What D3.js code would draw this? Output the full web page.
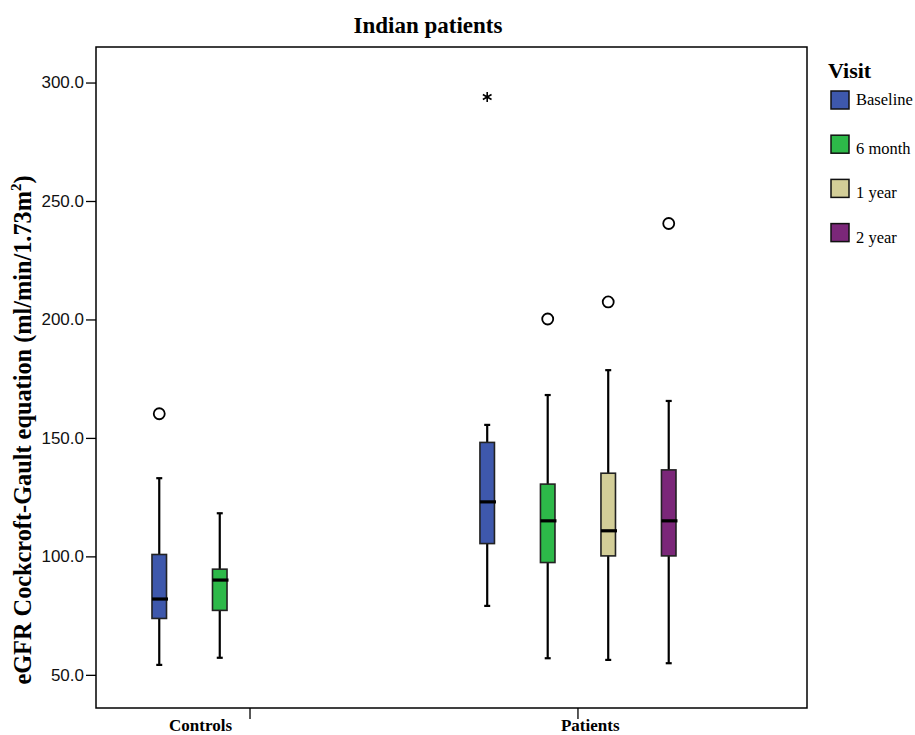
<!DOCTYPE html>
<html>
<head>
<meta charset="utf-8">
<script src="https://cdn.jsdelivr.net/npm/d3@7"></script>
<style>
  html, body { margin: 0; padding: 0; background: #fff; }
  svg { display: block; }
</style>
</head>
<body>
<svg id="chart" width="915" height="735"></svg>
<script>
// Groups on the x axis and the visits drawn inside each group
const groups = ["Controls", "Patients"];
const visits = ["Baseline", "6 month", "1 year", "2 year"];
const visitColors = ["#3E58AC", "#2DB949", "#D3CE98", "#7B2779"];

// One entry per box: group, visit and five-number summary (ml/min/1.73m²)
const boxGroup    = ["Controls", "Controls", "Patients", "Patients", "Patients", "Patients"];
const boxVisit    = ["Baseline", "6 month", "Baseline", "6 month", "1 year", "2 year"];
const whiskerLow  = [54.2, 57.2, 79.1, 57.0, 56.3, 54.9];
const quartile1   = [73.8, 77.2, 105.4, 97.4, 100.2, 100.2];
const medians     = [82.0, 90.0, 123.0, 115.0, 110.8, 115.0];
const quartile3   = [100.8, 94.6, 148.1, 130.5, 135.1, 136.5];
const whiskerHigh = [133.0, 118.2, 155.5, 168.1, 178.6, 165.6];
const outliers    = [[160.2], [], [], [200.2], [207.4], [240.5]];
const extremes    = [[], [], [293.9], [], [], []];

const yTicks = [50, 100, 150, 200, 250, 300];

const svg = d3.select("#chart");
const frame = { left: 96, right: 807, top: 47, bottom: 708 };

const y = d3.scaleLinear().domain([36, 315]).range([frame.bottom, frame.top]);

const x = d3.scaleBand()
  .domain(groups)
  .range([frame.left, frame.right])
  .paddingInner(0.262)
  .paddingOuter(0.215)
  .align(0.234);

const xv = d3.scaleBand()
  .domain(visits)
  .range([0, x.bandwidth()])
  .paddingInner(0.76)
  .paddingOuter(0.38);

const color = d3.scaleOrdinal().domain(visits).range(visitColors);

const boxes = boxGroup.map((g, i) => ({
  group: g,
  visit: boxVisit[i],
  lo: whiskerLow[i],
  q1: quartile1[i],
  med: medians[i],
  q3: quartile3[i],
  hi: whiskerHigh[i],
  out: outliers[i],
  ext: extremes[i]
}));

// Title
svg.append("text")
  .attr("x", 428)
  .attr("y", 33)
  .attr("text-anchor", "middle")
  .style("font-family", "'Liberation Serif', 'Times New Roman', serif")
  .style("font-weight", "bold")
  .style("font-size", "23px")
  .text("Indian patients");

// Plot frame
svg.append("rect")
  .attr("x", frame.left)
  .attr("y", frame.top)
  .attr("width", frame.right - frame.left)
  .attr("height", frame.bottom - frame.top)
  .attr("fill", "none")
  .attr("stroke", "#000")
  .attr("stroke-width", 1.5);

// Y axis
const yAxis = svg.append("g")
  .attr("transform", `translate(${frame.left},0)`)
  .call(d3.axisLeft(y).tickValues(yTicks).tickFormat(d3.format(".1f")).tickSize(10).tickPadding(2));
yAxis.select(".domain").remove();
yAxis.selectAll(".tick line").attr("stroke", "#000").attr("stroke-width", 1.3);
yAxis.selectAll(".tick text")
  .style("font-family", "'Liberation Sans', Arial, sans-serif")
  .style("font-size", "17px")
  .attr("fill", "#111");

// Y axis title
const yTitle = svg.append("text")
  .attr("transform", "translate(31,430) rotate(-90)")
  .attr("text-anchor", "middle")
  .style("font-family", "'Liberation Serif', 'Times New Roman', serif")
  .style("font-weight", "bold")
  .style("font-size", "24.3px");
yTitle.append("tspan").text("eGFR Cockcroft-Gault equation (ml/min/1.73m");
yTitle.append("tspan").attr("dy", -10).style("font-size", "15px").text("2");
yTitle.append("tspan").attr("dy", 10).text(")");

// X axis
const xAxis = svg.append("g")
  .attr("transform", `translate(0,${frame.bottom})`)
  .call(d3.axisBottom(x).tickSize(11).tickPadding(0));
xAxis.select(".domain").remove();
xAxis.selectAll(".tick line").attr("stroke", "#000").attr("stroke-width", 1.3);
xAxis.selectAll(".tick text")
  .style("font-family", "'Liberation Serif', 'Times New Roman', serif")
  .style("font-weight", "bold")
  .style("font-size", "17px")
  .attr("fill", "#000")
  .attr("text-anchor", (d, i) => i === 0 ? "end" : "start")
  .attr("dx", (d, i) => i === 0 ? -18 : -17);

// Box plots
const boxW = xv.bandwidth();
const capW = 6;
const bg = svg.append("g")
  .selectAll("g")
  .data(boxes)
  .join("g")
  .attr("transform", d => `translate(${x(d.group) + xv(d.visit) + boxW / 2},0)`);

// whisker stems
bg.append("line")
  .attr("x1", 0).attr("x2", 0)
  .attr("y1", d => y(d.lo)).attr("y2", d => y(d.hi))
  .attr("stroke", "#000").attr("stroke-width", 2.2);
// whisker caps
bg.selectAll(".cap")
  .data(d => [d.lo, d.hi])
  .join("line")
  .attr("class", "cap")
  .attr("x1", -capW / 2).attr("x2", capW / 2)
  .attr("y1", v => y(v)).attr("y2", v => y(v))
  .attr("stroke", "#000").attr("stroke-width", 2.2);
// box
bg.append("rect")
  .attr("x", -boxW / 2)
  .attr("width", boxW)
  .attr("y", d => y(d.q3))
  .attr("height", d => y(d.q1) - y(d.q3))
  .attr("fill", d => color(d.visit))
  .attr("stroke", "#222")
  .attr("stroke-width", 1.6);
// median
bg.append("line")
  .attr("x1", -boxW / 2).attr("x2", boxW / 2 + 1.5)
  .attr("y1", d => y(d.med)).attr("y2", d => y(d.med))
  .attr("stroke", "#000").attr("stroke-width", 3.2);
// outliers
bg.selectAll(".out")
  .data(d => d.out)
  .join("circle")
  .attr("class", "out")
  .attr("cx", 0)
  .attr("cy", v => y(v))
  .attr("r", 5.5)
  .attr("fill", "#fff")
  .attr("stroke", "#000")
  .attr("stroke-width", 1.8);
// extreme values
bg.selectAll(".ext")
  .data(d => d.ext)
  .join("path")
  .attr("class", "ext")
  .attr("transform", v => `translate(0,${y(v)})`)
  .attr("d", d3.symbol(d3.symbolAsterisk, 70))
  .attr("fill", "none")
  .attr("stroke", "#000")
  .attr("stroke-width", 1.6);

// Legend
const legend = svg.append("g").attr("transform", "translate(828,0)");
legend.append("text")
  .attr("x", 0)
  .attr("y", 78)
  .style("font-family", "'Liberation Serif', 'Times New Roman', serif")
  .style("font-weight", "bold")
  .style("font-size", "22px")
  .text("Visit");

const legendStep = 44.2;
const items = legend.selectAll(".item")
  .data(visits)
  .join("g")
  .attr("class", "item")
  .attr("transform", (d, i) => `translate(3,${91 + i * legendStep})`);
items.append("rect")
  .attr("width", 18)
  .attr("height", 18)
  .attr("fill", d => color(d))
  .attr("stroke", "#111")
  .attr("stroke-width", 1.5);
items.append("text")
  .attr("x", 25)
  .attr("y", (d, i) => i === 0 ? 14 : 19)
  .style("font-family", "'Liberation Serif', 'Times New Roman', serif")
  .style("font-size", "16.5px")
  .text(d => d);
</script>
</body>
</html>
